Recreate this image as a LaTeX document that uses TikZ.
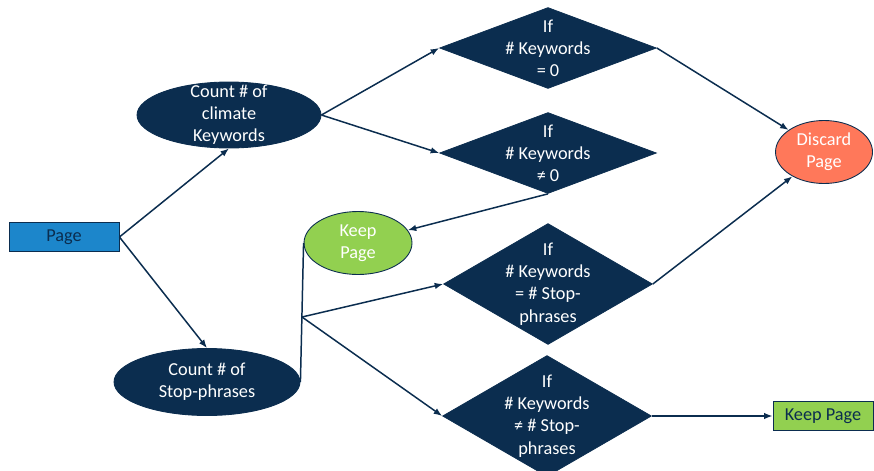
\documentclass[tikz,border=0pt]{standalone}
\usepackage{fontspec}
\setmainfont{Carlito}
\usetikzlibrary{arrows.meta, positioning, shapes.geometric}
\definecolor{fignavy}{HTML}{0B2D4F}
\definecolor{figblue}{HTML}{1C86CB}
\definecolor{figcoral}{HTML}{FF785A}
\definecolor{figgreen}{HTML}{92D050}
\tikzset{
  figtxt/.style={font=\fontsize{10.4}{12.6}\selectfont, align=center, text=white, inner sep=0pt},
  figell/.style={ellipse, draw=fignavy, fill=fignavy, inner sep=0pt, line width=0.5pt},
  figdia/.style={diamond, draw=fignavy, fill=fignavy, inner sep=0pt},
  figrect/.style={rectangle, draw=fignavy, line width=0.5pt, inner sep=0pt,
    font=\fontsize{10.4}{12.6}\selectfont, text=fignavy},
  figarrow/.style={-{Latex[length=1.7mm, width=1.3mm]}, line width=0.85pt, fignavy},
  figline/.style={line width=0.85pt, fignavy},
}
\begin{document}
\begin{tikzpicture}[x=0.02cm, y=-0.02cm]
  \useasboundingbox (0,0) rectangle (874,470);
  \clip (0,0) rectangle (874,470);
  \node[figrect, fill=figblue, minimum width=2.2cm, minimum height=0.58cm] (page) at (64,237) {Page};
  \node[figell, minimum width=3.68cm, minimum height=1.32cm, label={[figtxt]center:Count \# of\\climate\\Keywords}] (kw) at (229,115) {};
  \node[figell, minimum width=3.72cm, minimum height=1.34cm, label={[figtxt]center:Count \# of\\Stop-phrases}] (sp) at (207,382) {};
  \node[figdia, minimum width=4.34cm, minimum height=1.62cm, label={[figtxt]center:If\\\# Keywords\\= 0}] (d1) at (548,48) {};
  \node[figdia, minimum width=4.34cm, minimum height=1.62cm, label={[figtxt]center:If\\\# Keywords\\≠ 0}] (d2) at (548,153) {};
  \node[figdia, minimum width=4.18cm, minimum height=2.42cm, label={[figtxt]center:If\\\# Keywords\\= \# Stop-\\phrases}] (d3) at (548,284) {};
  \node[figdia, minimum width=4.18cm, minimum height=2.42cm, label={[figtxt]center:If\\\# Keywords\\≠ \# Stop-\\phrases}] (d4) at (547,416) {};
  \node[figell, fill=figcoral, minimum width=1.94cm, minimum height=1.26cm, label={[figtxt]center:Discard\\Page}] (discard) at (824,152) {};
  \node[figell, fill=figgreen, minimum width=2.16cm, minimum height=1.26cm, label={[figtxt]center:Keep\\Page}] (keep) at (358,243) {};
  \node[figrect, fill=figgreen, minimum width=2.0cm, minimum height=0.58cm] (keeprect) at (823,416) {Keep Page};
  \coordinate (split) at (302,317);
  \draw[figarrow] (page.east) -- (kw.south);
  \draw[figarrow] (page.east) -- (sp.north);
  \foreach \a/\b in {kw.east/d1.west, kw.east/d2.west, d1.east/discard, d3.east/discard, d2.south/keep, split/d3.west, split/d4.west, d4.east/keeprect.west}
    \draw[figarrow] (\a) -- (\b);
  \draw[figline] (sp.east) -- (keep.west);
\end{tikzpicture}
\end{document}
